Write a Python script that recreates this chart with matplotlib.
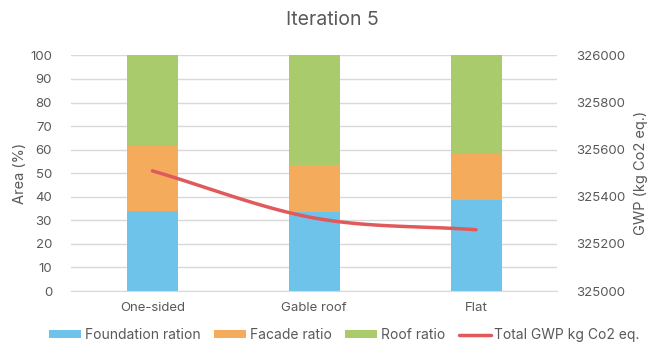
import numpy as np
import matplotlib
matplotlib.use("Agg")
import matplotlib.pyplot as plt

plt.rcParams['font.family'] = ['Inter', 'DejaVu Sans']

categories = ["One-sided", "Gable roof", "Flat"]
foundation = [34.0, 33.5, 38.5]
facade = [27.5, 20.0, 19.5]
roof = [38.5, 46.5, 42.0]
gwp_total = [325510, 325310, 325260]

left_ticks = list(range(0, 101, 10))
right_ticks = list(range(325000, 326001, 200))

text_col = "#595959"
c_found = "#6EC3EA"
c_facade = "#F5AB5C"
c_roof = "#A9CB6B"
c_line = "#E05A5C"

fig = plt.figure(figsize=(6.65, 3.53), dpi=100)
ax = fig.add_axes([0.1075, 0.1756, 0.7301, 0.6674])

x = np.arange(len(categories))
w = 0.315
ax.bar(x, foundation, w, color=c_found, label="Foundation ration", zorder=2)
ax.bar(x, facade, w, bottom=foundation, color=c_facade, label="Facade ratio", zorder=2)
bottom2 = np.array(foundation) + np.array(facade)
ax.bar(x, roof, w, bottom=bottom2, color=c_roof, label="Roof ratio", zorder=2)

ax.set_xlim(-0.5, len(categories) - 0.5)
ax.set_ylim(0, 100)
ax.set_yticks(left_ticks)
ax.set_xticks(x)
ax.set_xticklabels(categories)
ax.grid(axis="y", color="#D9D9D9", linewidth=1.0, zorder=0)
for s in ["top", "right", "left"]:
    ax.spines[s].set_visible(False)
ax.spines["bottom"].set_color("#D9D9D9")
ax.tick_params(axis="both", length=0, colors=text_col, labelsize=9.5)
ax.tick_params(axis="x", pad=8)
ax.tick_params(axis="y", pad=14)
ax.set_ylabel("Area (%)", color=text_col, fontsize=10.5, labelpad=2)

ax2 = ax.twinx()
ax2.set_ylim(325000, 326000)
ax2.set_yticks(right_ticks)
for s in ax2.spines.values():
    s.set_visible(False)
ax2.tick_params(axis="y", length=0, colors=text_col, labelsize=9.5, pad=14)
ax2.set_ylabel("GWP (kg Co2 eq.)", color=text_col, fontsize=10.5, labelpad=6)

# smoothed line through the totals (Catmull-Rom style)
pts = np.column_stack([x.astype(float), np.array(gwp_total, dtype=float)])
ext = np.vstack([2 * pts[0] - pts[1], pts, 2 * pts[-1] - pts[-2]])
curve = []
for i in range(1, len(ext) - 2):
    p0, p1, p2, p3 = ext[i - 1], ext[i], ext[i + 1], ext[i + 2]
    for t in np.linspace(0, 1, 40):
        t2, t3 = t * t, t * t * t
        curve.append(0.5 * ((2 * p1) + (-p0 + p2) * t + (2 * p0 - 5 * p1 + 4 * p2 - p3) * t2
                            + (-p0 + 3 * p1 - 3 * p2 + p3) * t3))
curve = np.array(curve)
line, = ax2.plot(curve[:, 0], curve[:, 1], color=c_line, linewidth=2.5,
                 solid_capstyle="round", label="Total GWP kg Co2 eq.", zorder=3)

fig.suptitle("Iteration 5", x=0.5, y=0.97, fontsize=14, color=text_col)

h1, l1 = ax.get_legend_handles_labels()
fig.legend(h1 + [line], l1 + ["Total GWP kg Co2 eq."], loc="lower center",
           bbox_to_anchor=(0.518, -0.005), ncol=4, frameon=False, fontsize=10,
           labelcolor=text_col, handlelength=2.3, handleheight=0.5,
           handletextpad=0.25, columnspacing=1.0)

fig.savefig("out.png", dpi=100)
